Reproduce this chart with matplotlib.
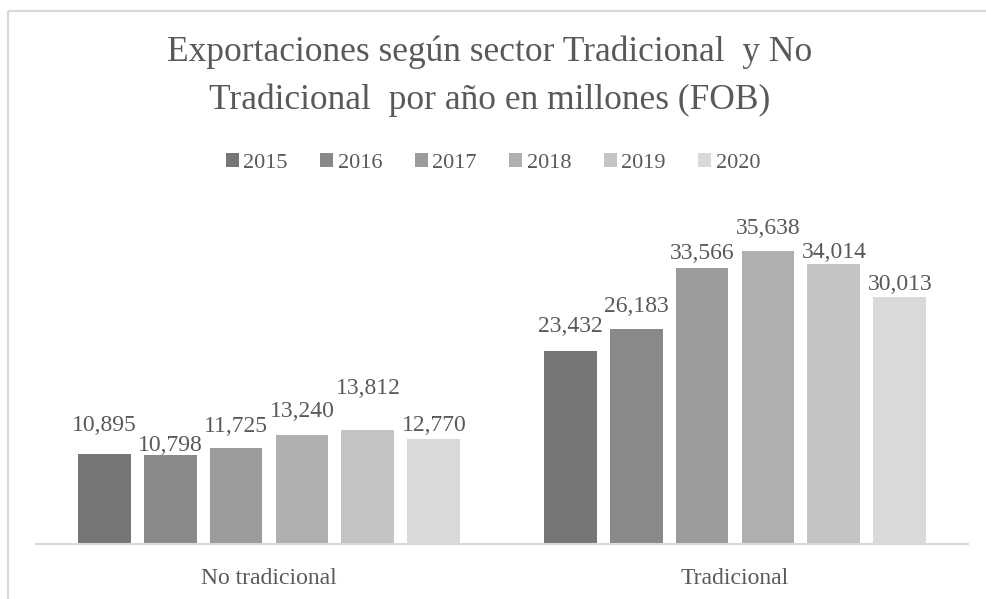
import matplotlib

matplotlib.use("Agg")
import matplotlib.pyplot as plt
import numpy as np
from matplotlib.lines import Line2D

# --- data -----------------------------------------------------------------
categories = ["No tradicional", "Tradicional"]
years = ["2015", "2016", "2017", "2018", "2019", "2020"]
no_tradicional = [10895, 10798, 11725, 13240, 13812, 12770]
tradicional = [23432, 26183, 33566, 35638, 34014, 30013]

# --- style ------------------------------------------------------------------
colors = ["#767676", "#898989", "#9b9b9b", "#afafaf", "#c4c4c4", "#d9d9d9"]
text_color = "#595959"
# Excel nudged some labels to avoid collisions: gap above bar top, in px
label_gap = [[23, 4, 16, 18, 36, 8], [19, 17, 9, 17, 6, 7]]

plt.rcParams["font.family"] = ["Liberation Serif", "DejaVu Serif"]

W, H = 986, 599
fig = plt.figure(figsize=(W / 100, H / 100), dpi=100)

# outer chart border: only the left and top edges are inside the crop
bx, by = 7.5 / W, 1 - 11 / H
fig.add_artist(Line2D([bx, bx], [-0.05, by], transform=fig.transFigure,
                      color="#d9d9d9", lw=1.6, solid_capstyle="butt"))
fig.add_artist(Line2D([bx, 1.05], [by, by], transform=fig.transFigure,
                      color="#d9d9d9", lw=1.6, solid_capstyle="butt"))

ax = fig.add_axes([36 / W, 1 - 544 / H, (968 - 36) / W, (544 - 215) / H])

x = np.arange(len(categories))
pitch = 0.1416
width = 0.1137
series = np.array([no_tradicional, tradicional]).T  # rows = years

for i, year in enumerate(years):
    xs = x + (i - 2.5) * pitch
    vals = series[i]
    ax.bar(xs, vals, width=width, color=colors[i], label=year, zorder=2)
    for j, (xx, v) in enumerate(zip(xs, vals)):
        ax.annotate(f"{v:,}", xy=(xx, v), xytext=(0, label_gap[j][i] * 0.72),
                    textcoords="offset points", ha="center", va="baseline",
                    fontsize=17, color=text_color)

ax.set_xlim(-0.5, 1.5)
ax.set_ylim(0, 40000)
ax.set_yticks([])
ax.set_xticks(x)
ax.set_xticklabels(categories, fontsize=17, color=text_color)
ax.tick_params(axis="x", length=0, pad=17)
for side in ["left", "right", "top"]:
    ax.spines[side].set_visible(False)
ax.spines["bottom"].set_color("#d9d9d9")
ax.spines["bottom"].set_linewidth(1.5)
ax.patch.set_alpha(0)

fig.text(0.497, 1 - 76 / H,
         "Exportaciones según sector Tradicional  y No\nTradicional  por año en millones (FOB)",
         ha="center", va="center", fontsize=25.5, color=text_color, linespacing=1.55)

fig.legend(loc="center", bbox_to_anchor=(0.5, 1 - 163 / H), ncol=6, frameon=False,
           fontsize=16, labelcolor=text_color, handlelength=0.6, handleheight=0.6,
           handletextpad=0.2, columnspacing=1.45)

fig.savefig("out.png", dpi=100)
